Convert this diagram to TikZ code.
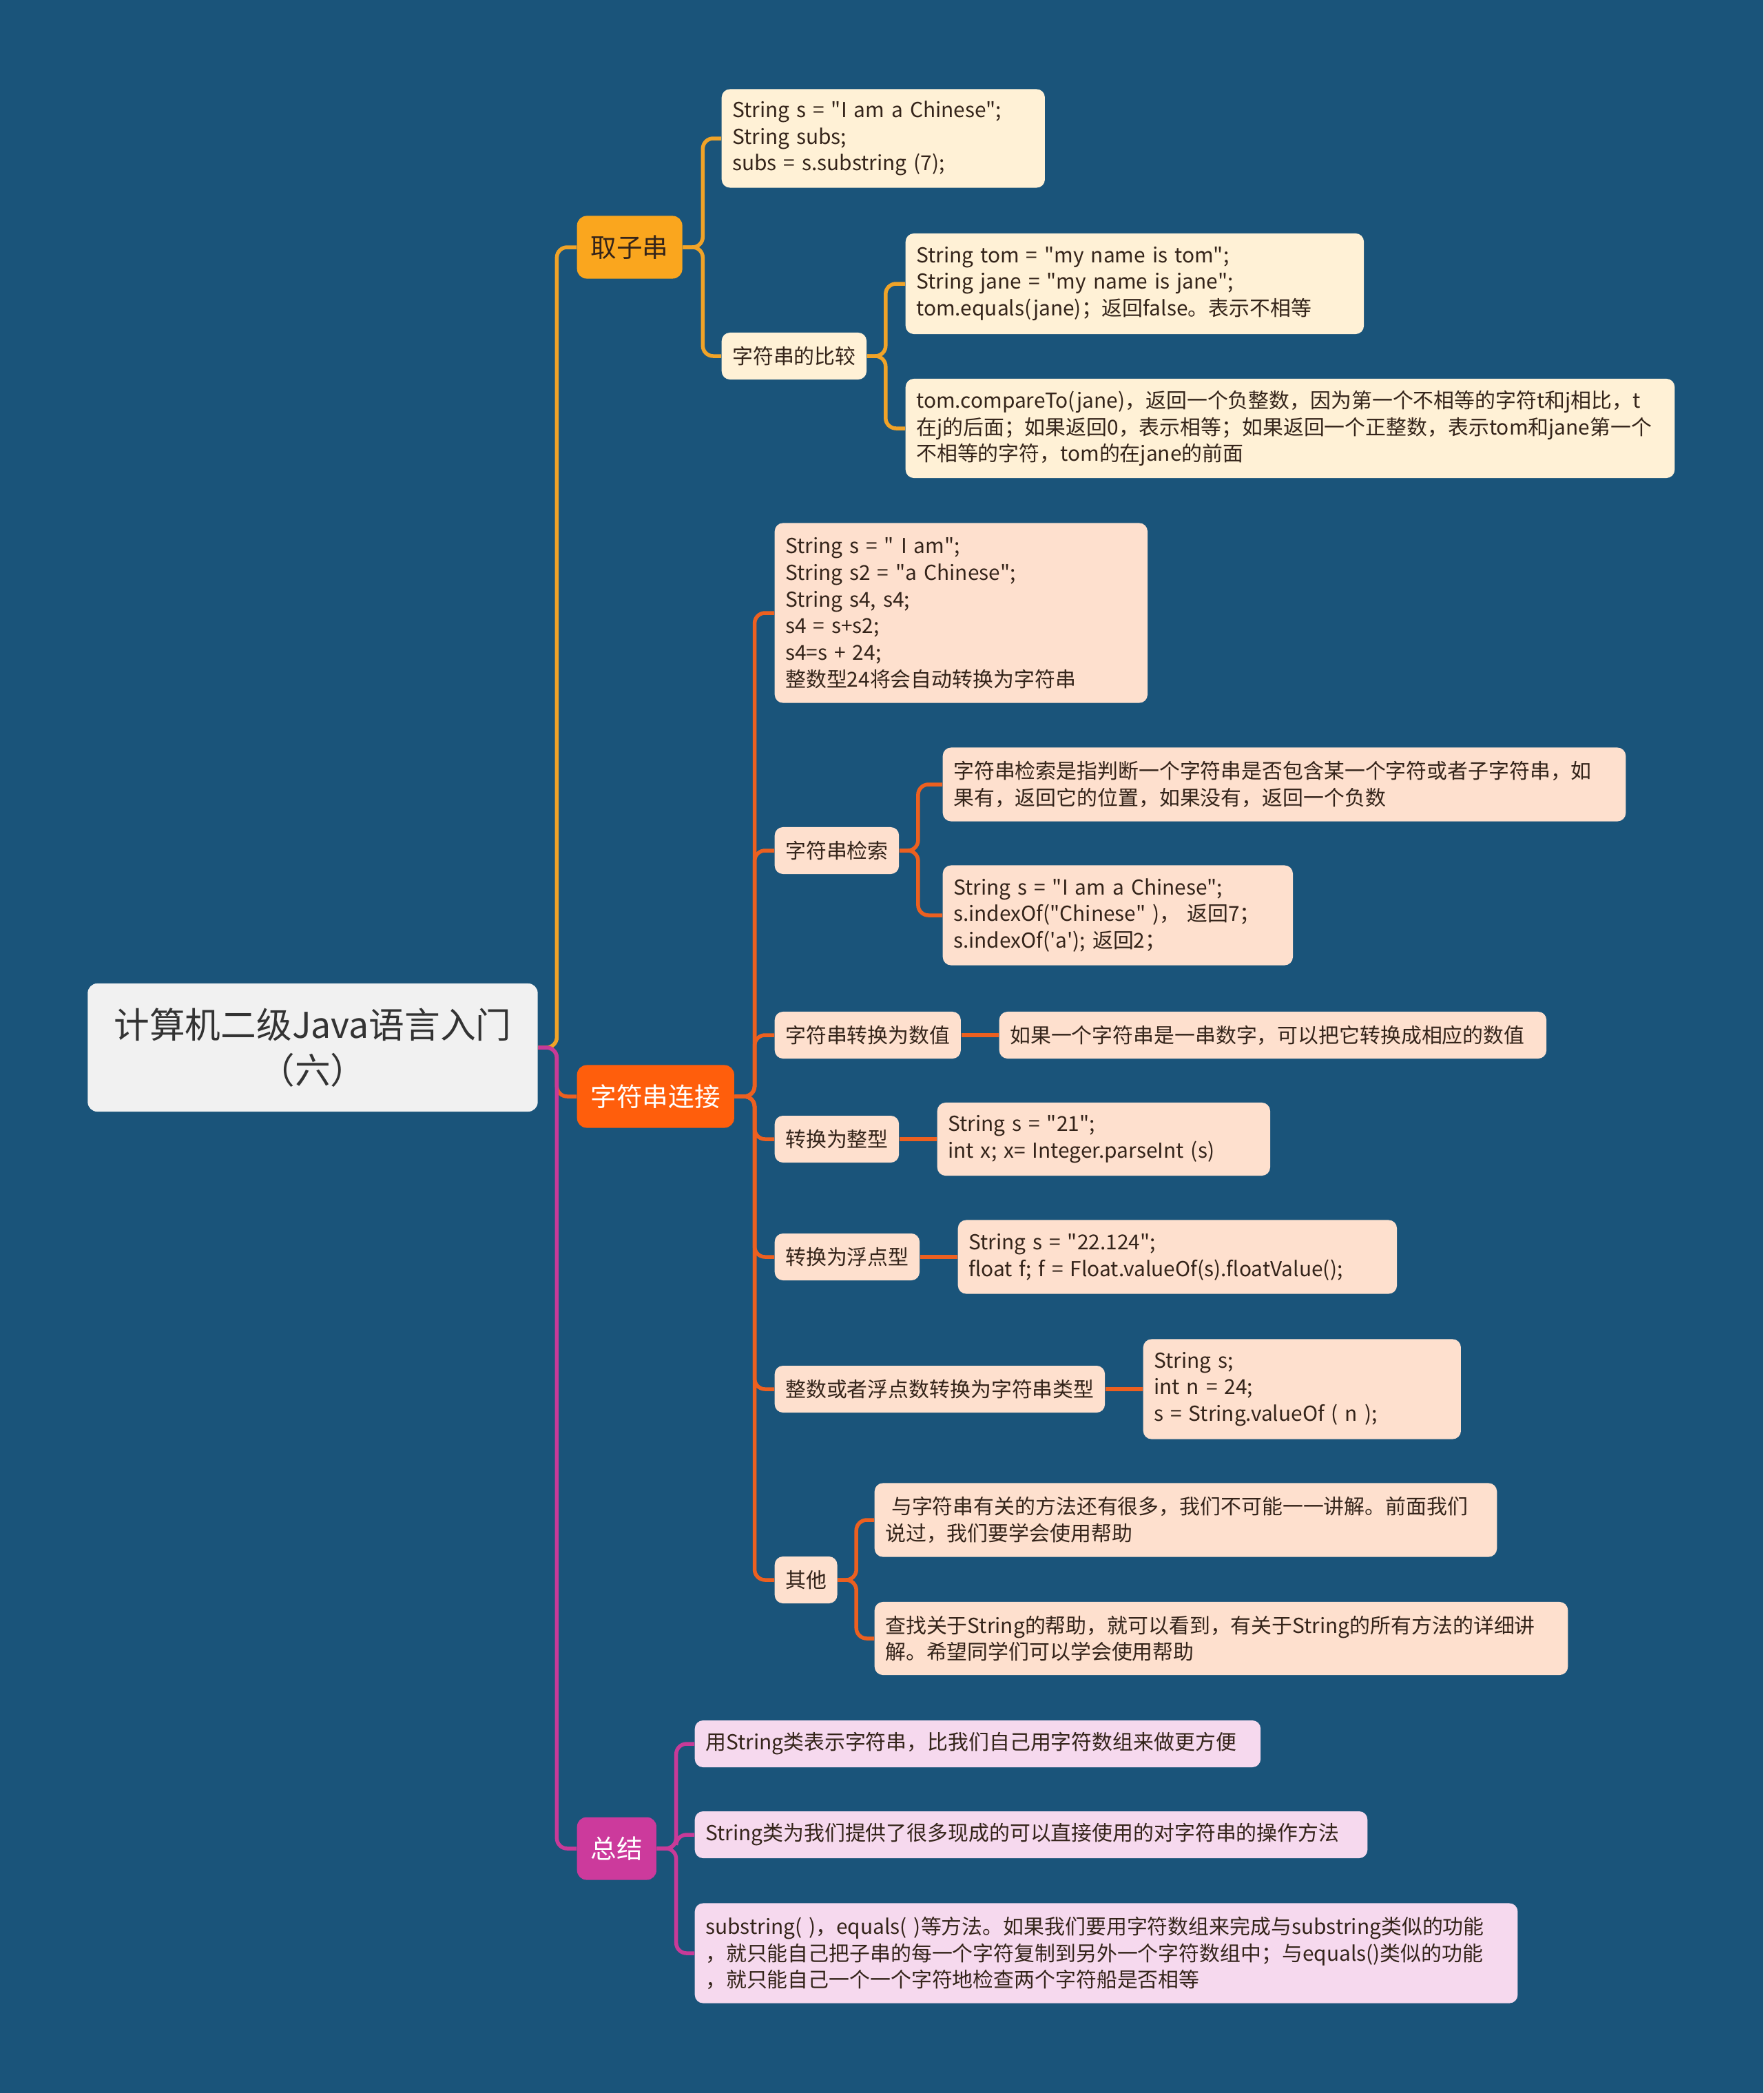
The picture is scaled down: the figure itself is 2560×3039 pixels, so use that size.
\documentclass[tikz,border=0pt]{standalone}
\usepackage{fontspec}
\newfontfamily\cjk{Noto Sans CJK SC}
\definecolor{MapBlue}{RGB}{26,84,122}
\definecolor{RootGray}{RGB}{241,241,241}
\definecolor{RootText}{RGB}{51,51,51}
\definecolor{SubOrange}{RGB}{250,166,30}
\definecolor{JoinRed}{RGB}{255,94,12}
\definecolor{SumPink}{RGB}{204,58,156}
\definecolor{SubCream}{RGB}{255,241,214}
\definecolor{JoinPeach}{RGB}{254,224,206}
\definecolor{SumLight}{RGB}{246,217,238}
\definecolor{SubLine}{RGB}{240,163,40}
\definecolor{JoinLine}{RGB}{236,96,32}
\definecolor{SumLine}{RGB}{200,58,152}
\definecolor{LeafText}{RGB}{52,36,26}
\tikzset{
  rootbox/.style={fill=RootGray, rounded corners=0.14cm, text=RootText,
                  text width=6.2cm, minimum height=1.86cm, align=center,
                  inner xsep=0.165cm, font={\cjk\fontsize{14.7pt}{18.8pt}\selectfont}},
  topic/.style={rounded corners=0.14cm, anchor=west, minimum height=0.91cm,
                inner xsep=0.2cm, font={\cjk\fontsize{10.7pt}{13pt}\selectfont}},
  leaf/.style={rounded corners=0.12cm, anchor=west, align=left, text=LeafText,
               minimum height=0.68cm, inner xsep=0.155cm, inner ysep=0.05cm,
               font={\cjk\fontsize{8.5pt}{11pt}\selectfont}},
  subleaf/.style={leaf, fill=SubCream},
  joinleaf/.style={leaf, fill=JoinPeach},
  sumleaf/.style={leaf, fill=SumLight},
  link/.style={line width=0.055cm, rounded corners=0.15cm}
}
\begin{document}
\begin{tikzpicture}[x=0.01cm,y=-0.01cm]
\fill[MapBlue] (0,0) rectangle (2560,3039);
\useasboundingbox (0,0) rectangle (2560,3039);

\node[rootbox] (root) at (454,1521) {计算机二级Java语言入门\\（六）};

% main topics
\node[topic, fill=SubOrange, text=LeafText] (qzc) at (837,359) {取子串};
\node[topic, fill=JoinRed, text=white] (zfclj) at (837,1592) {字符串连接};
\node[topic, fill=SumPink, text=white] (zj) at (837,2684) {总结};

% 取子串
\node[subleaf, text width=4.38cm, minimum height=1.43cm] (subcode) at (1047,201)
  {String s = "I am a Chinese";\\String subs;\\subs = s.substring (7);};
\node[subleaf] (cmp) at (1047,517) {字符串的比较};
\node[subleaf, text width=6.34cm, minimum height=1.46cm] (cmpeq) at (1314,412)
  {String tom = "my name is tom";\\String jane = "my name is jane";\\tom.equals(jane)；返回false。表示不相等};
\node[subleaf, text width=10.85cm, minimum height=1.44cm] (cmpto) at (1314,622)
  {tom.compareTo(jane)，返回一个负整数，因为第一个不相等的字符t和j相比，t\\在j的后面；如果返回0，表示相等；如果返回一个正整数，表示tom和jane第一个\\不相等的字符，tom的在jane的前面};

% 字符串连接
\node[joinleaf, text width=5.10cm, minimum height=2.61cm] (catcode) at (1124,890)
  {String s = " I am";\\String s2 = "a Chinese";\\String s4, s4;\\s4 = s+s2;\\s4=s + 24;\\整数型24将会自动转换为字符串};
\node[joinleaf] (find) at (1124,1235) {字符串检索};
\node[joinleaf, text width=9.60cm, minimum height=1.07cm] (finddef) at (1368,1139)
  {字符串检索是指判断一个字符串是否包含某一个字符或者子字符串，如\\果有，返回它的位置，如果没有，返回一个负数};
\node[joinleaf, text width=4.77cm, minimum height=1.45cm] (findcode) at (1368,1329)
  {String s = "I am a Chinese";\\s.indexOf("Chinese" )， 返回7；\\s.indexOf('a'); 返回2；};
\node[joinleaf] (tonum) at (1124,1503) {字符串转换为数值};
\node[joinleaf, text width=7.63cm] (tonumdef) at (1450,1503)
  {如果一个字符串是一串数字，可以把它转换成相应的数值};
\node[joinleaf] (toint) at (1124,1654) {转换为整型};
\node[joinleaf, text width=4.52cm, minimum height=1.06cm] (tointcode) at (1360,1654)
  {String s = "21";\\int x; x= Integer.parseInt (s)};
\node[joinleaf] (tofloat) at (1124,1825) {转换为浮点型};
\node[joinleaf, text width=6.06cm, minimum height=1.07cm] (tofloatcode) at (1390,1825)
  {String s = "22.124";\\float f; f = Float.valueOf(s).floatValue();};
\node[joinleaf] (tostr) at (1124,2017) {整数或者浮点数转换为字符串类型};
\node[joinleaf, text width=4.30cm, minimum height=1.45cm] (tostrcode) at (1659,2017)
  {String s;\\int n = 24;\\s = String.valueOf ( n );};
\node[joinleaf] (other) at (1124,2294) {其他};
\node[joinleaf, text width=8.72cm, minimum height=1.07cm] (otherhelp) at (1269,2207)
  {\hspace*{0.3em}与字符串有关的方法还有很多，我们不可能一一讲解。前面我们\\说过，我们要学会使用帮助};
\node[joinleaf, text width=9.75cm, minimum height=1.06cm] (otherfind) at (1269,2379)
  {查找关于String的帮助，就可以看到，有关于String的所有方法的详细讲\\解。希望同学们可以学会使用帮助};

% 总结
\node[sumleaf, text width=7.90cm] (sumone) at (1008,2532)
  {用String类表示字符串，比我们自己用字符数组来做更方便};
\node[sumleaf, text width=9.45cm] (sumtwo) at (1008,2664)
  {String类为我们提供了很多现成的可以直接使用的对字符串的操作方法};
\node[sumleaf, text width=11.63cm, minimum height=1.45cm] (sumthree) at (1008,2836)
  {substring( )，equals( )等方法。如果我们要用字符数组来完成与substring类似的功能\\，就只能自己把子串的每一个字符复制到另外一个字符数组中；与equals()类似的功能\\，就只能自己一个一个字符地检查两个字符船是否相等};

% connectors
\draw[link, SubLine] (root.east) -- ++(27,0) |- (qzc.west);
\draw[link, JoinLine] (root.east) -- ++(27,0) |- (zfclj.west);
\draw[link, SumLine] (root.east) -- ++(27,0) |- (zj.west);

\foreach \c in {subcode,cmp}
  \draw[link, SubLine] (qzc.east) -- ++(29,0) |- (\c.west);
\foreach \c in {cmpeq,cmpto}
  \draw[link, SubLine] (cmp.east) -- ++(27,0) |- (\c.west);

\foreach \c in {catcode,find,tonum,toint,tofloat,tostr,other}
  \draw[link, JoinLine] (zfclj.east) -- ++(29,0) |- (\c.west);
\foreach \c in {finddef,findcode}
  \draw[link, JoinLine] (find.east) -- ++(27,0) |- (\c.west);
\draw[link, JoinLine] (tonum.east) -- (tonumdef.west);
\draw[link, JoinLine] (toint.east) -- (tointcode.west);
\draw[link, JoinLine] (tofloat.east) -- (tofloatcode.west);
\draw[link, JoinLine] (tostr.east) -- (tostrcode.west);
\foreach \c in {otherhelp,otherfind}
  \draw[link, JoinLine] (other.east) -- ++(27,0) |- (\c.west);

\foreach \c in {sumone,sumtwo,sumthree}
  \draw[link, SumLine] (zj.east) -- ++(28,0) |- (\c.west);
\end{tikzpicture}
\end{document}
